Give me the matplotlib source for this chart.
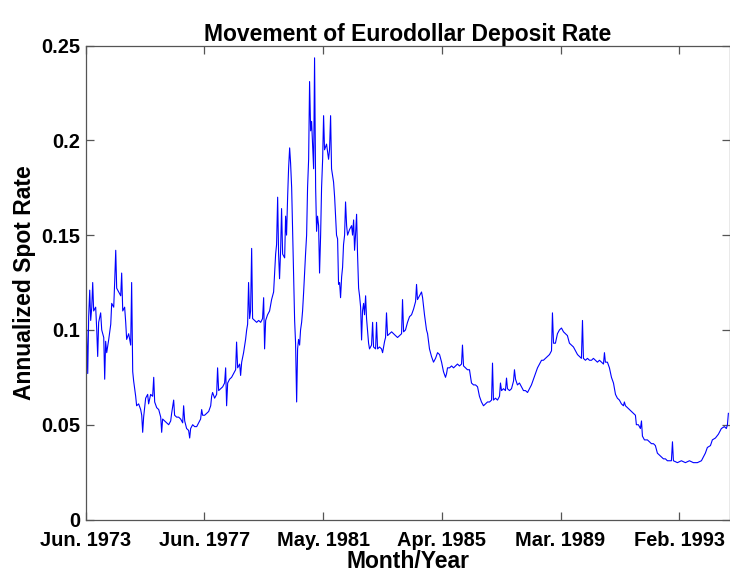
import matplotlib
matplotlib.use("Agg")
import matplotlib.pyplot as plt

plt.rcParams['font.family'] = ['Liberation Sans', 'DejaVu Sans']

# observation number (business days since Jun. 1973) and annualized spot rate
obs = [0, 8, 17, 25, 34, 42, 51, 59, 67, 84, 93, 101, 109, 126, 135, 152, 160, 168, 177, 194,
       211, 219, 236, 244, 253, 261, 278, 295, 303, 312, 328, 337, 345, 362, 379, 387, 396, 404, 421, 429,
       446, 463, 472, 480, 488, 505, 522, 530, 547, 564, 573, 581, 598, 615, 632, 640, 648, 665, 682, 699,
       716, 724, 741, 749, 766, 783, 800, 817, 825, 834, 850, 867, 876, 884, 901, 918, 935, 951, 968, 977,
       985, 1002, 1019, 1036, 1053, 1061, 1069, 1086, 1103, 1111, 1120, 1137, 1154, 1170, 1179, 1187, 1196, 1212, 1229, 1246,
       1263, 1271, 1280, 1297, 1305, 1314, 1330, 1347, 1356, 1364, 1372, 1381, 1389, 1398, 1406, 1423, 1440, 1457, 1474, 1490,
       1499, 1507, 1516, 1532, 1549, 1566, 1583, 1591, 1600, 1608, 1617, 1625, 1633, 1642, 1650, 1659, 1676, 1684, 1692, 1701,
       1709, 1718, 1726, 1735, 1743, 1751, 1760, 1768, 1777, 1785, 1793, 1802, 1810, 1819, 1827, 1836, 1844, 1852, 1861, 1869,
       1878, 1886, 1895, 1903, 1911, 1920, 1928, 1937, 1945, 1953, 1962, 1970, 1979, 1987, 1996, 2004, 2012, 2029, 2046, 2054,
       2063, 2071, 2088, 2097, 2105, 2113, 2122, 2130, 2139, 2147, 2156, 2164, 2172, 2181, 2189, 2198, 2206, 2223, 2240, 2248,
       2257, 2265, 2273, 2282, 2290, 2299, 2307, 2316, 2324, 2332, 2341, 2349, 2358, 2366, 2374, 2383, 2391, 2408, 2417, 2425,
       2442, 2450, 2459, 2475, 2492, 2501, 2518, 2526, 2534, 2543, 2560, 2577, 2593, 2610, 2627, 2644, 2661, 2669, 2678, 2694,
       2711, 2728, 2745, 2762, 2779, 2787, 2795, 2812, 2829, 2838, 2854, 2871, 2880, 2896, 2913, 2930, 2947, 2964, 2981, 2998,
       3014, 3031, 3040, 3048, 3065, 3082, 3099, 3115, 3132, 3149, 3166, 3174, 3183, 3200, 3216, 3233, 3250, 3267, 3284, 3301,
       3317, 3334, 3351, 3368, 3385, 3402, 3419, 3427, 3435, 3452, 3469, 3486, 3494, 3503, 3520, 3536, 3545, 3553, 3570, 3587,
       3604, 3612, 3621, 3637, 3654, 3671, 3688, 3705, 3722, 3738, 3755, 3772, 3789, 3806, 3823, 3840, 3856, 3873, 3890, 3907,
       3924, 3932, 3941, 3957, 3974, 3991, 4008, 4025, 4042, 4058, 4075, 4092, 4109, 4126, 4143, 4159, 4176, 4185, 4193, 4210,
       4227, 4244, 4261, 4277, 4294, 4311, 4328, 4345, 4362, 4370, 4378, 4395, 4412, 4429, 4446, 4463, 4479, 4496, 4513, 4530,
       4538, 4547, 4564, 4580, 4597, 4614, 4631, 4639, 4656, 4673, 4682, 4690, 4707, 4732, 4749, 4766, 4783, 4799, 4816, 4833,
       4850, 4867, 4884, 4900, 4917, 4934, 4943, 4951, 4985, 5018, 5052, 5086, 5119, 5153, 5187, 5204, 5220, 5237, 5263, 5279,
       5305, 5330, 5355, 5380, 5397, 5406, 5414]

rate = [0.083, 0.100, 0.077, 0.107, 0.121, 0.105, 0.112, 0.125, 0.110, 0.112, 0.100, 0.086, 0.104, 0.109, 0.100, 0.096, 0.074, 0.094, 0.088, 0.095,
        0.103, 0.114, 0.112, 0.125, 0.142, 0.122, 0.120, 0.118, 0.130, 0.110, 0.112, 0.104, 0.095, 0.098, 0.092, 0.125, 0.078, 0.073, 0.065, 0.060,
        0.061, 0.058, 0.055, 0.046, 0.054, 0.064, 0.066, 0.061, 0.066, 0.065, 0.075, 0.062, 0.059, 0.058, 0.054, 0.046, 0.053, 0.052, 0.051, 0.050,
        0.052, 0.056, 0.063, 0.055, 0.054, 0.054, 0.053, 0.051, 0.060, 0.052, 0.048, 0.047, 0.043, 0.048, 0.050, 0.049, 0.049, 0.051, 0.053, 0.058,
        0.055, 0.055, 0.056, 0.057, 0.060, 0.065, 0.067, 0.064, 0.066, 0.080, 0.068, 0.069, 0.070, 0.072, 0.080, 0.060, 0.072, 0.074, 0.075, 0.077,
        0.079, 0.0936, 0.080, 0.082, 0.076, 0.083, 0.088, 0.095, 0.100, 0.103, 0.125, 0.106, 0.110, 0.143, 0.106, 0.105, 0.104, 0.105, 0.104, 0.106,
        0.117, 0.090, 0.105, 0.108, 0.110, 0.116, 0.120, 0.129, 0.140, 0.145, 0.170, 0.140, 0.127, 0.142, 0.164, 0.140, 0.138, 0.160, 0.150, 0.170,
        0.185, 0.196, 0.188, 0.175, 0.152, 0.130, 0.105, 0.093, 0.062, 0.090, 0.095, 0.092, 0.100, 0.104, 0.110, 0.120, 0.130, 0.140, 0.150, 0.175,
        0.190, 0.231, 0.205, 0.210, 0.198, 0.185, 0.2435, 0.175, 0.152, 0.160, 0.155, 0.130, 0.150, 0.175, 0.190, 0.213, 0.195, 0.198, 0.190, 0.195,
        0.213, 0.185, 0.178, 0.170, 0.160, 0.150, 0.148, 0.124, 0.125, 0.117, 0.128, 0.133, 0.145, 0.150, 0.1675, 0.155, 0.150, 0.153, 0.155, 0.150,
        0.158, 0.142, 0.150, 0.161, 0.140, 0.122, 0.118, 0.112, 0.0947, 0.110, 0.114, 0.108, 0.118, 0.106, 0.100, 0.093, 0.090, 0.092, 0.104, 0.091,
        0.090, 0.104, 0.090, 0.091, 0.090, 0.088, 0.094, 0.096, 0.109, 0.097, 0.098, 0.099, 0.098, 0.097, 0.096, 0.097, 0.098, 0.116, 0.099, 0.100,
        0.104, 0.107, 0.108, 0.111, 0.115, 0.124, 0.116, 0.118, 0.120, 0.117, 0.108, 0.100, 0.098, 0.090, 0.086, 0.083, 0.085, 0.088, 0.087, 0.083,
        0.078, 0.075, 0.077, 0.080, 0.080, 0.081, 0.080, 0.081, 0.082, 0.081, 0.082, 0.092, 0.081, 0.080, 0.079, 0.079, 0.072, 0.071, 0.071, 0.070,
        0.065, 0.062, 0.060, 0.061, 0.062, 0.062, 0.063, 0.0825, 0.063, 0.064, 0.063, 0.065, 0.072, 0.068, 0.069, 0.068, 0.0746, 0.069, 0.068, 0.069,
        0.073, 0.079, 0.074, 0.071, 0.072, 0.070, 0.068, 0.068, 0.067, 0.069, 0.071, 0.074, 0.077, 0.080, 0.082, 0.084, 0.084, 0.085, 0.086, 0.087,
        0.089, 0.109, 0.093, 0.093, 0.098, 0.100, 0.101, 0.099, 0.098, 0.097, 0.093, 0.092, 0.091, 0.089, 0.087, 0.086, 0.085, 0.105, 0.085, 0.084,
        0.085, 0.084, 0.084, 0.085, 0.084, 0.083, 0.084, 0.083, 0.082, 0.088, 0.083, 0.083, 0.080, 0.075, 0.072, 0.066, 0.064, 0.063, 0.061, 0.060,
        0.062, 0.060, 0.059, 0.058, 0.057, 0.056, 0.055, 0.050, 0.050, 0.048, 0.052, 0.044, 0.042, 0.042, 0.041, 0.040, 0.040, 0.039, 0.035, 0.034,
        0.033, 0.032, 0.032, 0.031, 0.031, 0.031, 0.041, 0.031, 0.030, 0.031, 0.030, 0.031, 0.030, 0.030, 0.031, 0.033, 0.035, 0.038, 0.039, 0.042,
        0.043, 0.045, 0.048, 0.049, 0.048, 0.050, 0.056]

tick_obs = [0, 1000, 2000, 3000, 4000, 5000]
tick_labels = ['Jun. 1973', 'Jun. 1977', 'May. 1981', 'Apr. 1985', 'Mar. 1989', 'Feb. 1993']
y_ticks = [0, 0.05, 0.1, 0.15, 0.2, 0.25]
y_labels = ['0', '0.05', '0.1', '0.15', '0.2', '0.25']

fig = plt.figure(figsize=(7.30, 5.74), dpi=100)
ax = fig.add_axes([0.1174, 0.0949, 0.882, 0.8258])
ax.plot(obs, rate, color=(0, 0, 1), lw=0.8)

ax.set_xlim(0, 5424)
ax.set_ylim(0, 0.25)
ax.set_xticks(tick_obs)
ax.set_xticklabels(tick_labels)
ax.set_yticks(y_ticks)
ax.set_yticklabels(y_labels)

for s in ax.spines.values():
    s.set_color('#555555')
    s.set_linewidth(0.9)
ax.tick_params(direction='in', length=6, width=0.9, color='#555555',
               top=True, right=True, labelsize=14.4)
ax.tick_params(axis='x', pad=8)
ax.tick_params(axis='y', pad=4)
for lab in ax.get_xticklabels() + ax.get_yticklabels():
    lab.set_fontweight('bold')
for lab in ax.get_yticklabels():
    lab.set_verticalalignment('center_baseline')

ax.set_title('Movement of Eurodollar Deposit Rate', fontsize=16.5, fontweight='bold', pad=3)
ax.set_xlabel('Month/Year', fontsize=16.5, fontweight='bold', labelpad=0)
ax.set_ylabel('Annualized Spot Rate', fontsize=16.5, fontweight='bold', labelpad=4)

fig.savefig('out.png', dpi=100)
